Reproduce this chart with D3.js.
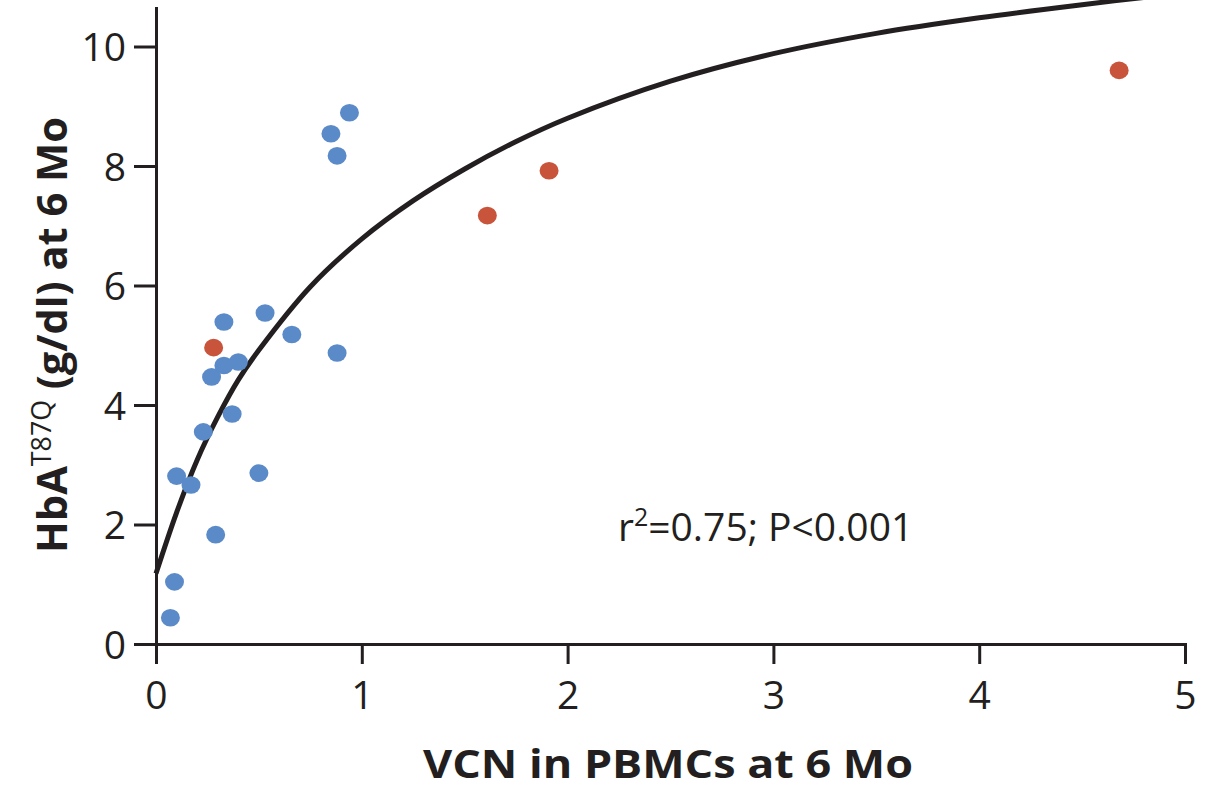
<!DOCTYPE html>
<html>
<head>
<meta charset="utf-8">
<script src="https://cdn.jsdelivr.net/npm/d3@7"></script>
<style>
  body { margin: 0; background: #fff; }
  svg { display: block; font-family: 'Open Sans', 'Noto Sans', sans-serif; }
  .axis path, .axis line { stroke: #231f20; stroke-width: 3; }
  .axis text { fill: #231f20; font-size: 39px; font-family: 'Open Sans', sans-serif; }
</style>
</head>
<body>
<svg width="1214" height="791"></svg>
<script>
// blue patients
const blueVcn = [0.07, 0.09, 0.10, 0.17, 0.29, 0.23, 0.37, 0.50, 0.27, 0.33, 0.40, 0.33, 0.53, 0.66, 0.88, 0.85, 0.88, 0.94];
const blueHb = [0.44, 1.04, 2.81, 2.66, 1.83, 3.55, 3.85, 2.86, 4.47, 4.66, 4.72, 5.39, 5.54, 5.18, 4.87, 8.54, 8.17, 8.89];
// red patients
const redVcn = [0.28, 1.61, 1.91, 4.68];
const redHb = [4.96, 7.17, 7.92, 9.60];
// fitted curve
const fitVcn = [0, 0.1, 0.2, 0.3, 0.4, 0.5, 0.75, 1.0, 1.25, 1.5, 1.75, 2.0, 2.5, 3.0, 3.5, 4.0, 4.5, 4.9];
const fitHb = [1.18, 2.2, 3.08, 3.8, 4.42, 4.92, 5.98, 6.78, 7.42, 7.95, 8.41, 8.8, 9.42, 9.88, 10.22, 10.48, 10.7, 10.86];
const xTicks = [0, 1, 2, 3, 4, 5];
const yTicks = [0, 2, 4, 6, 8, 10];

const svg = d3.select('svg');

const x = d3.scaleLinear().domain([0, 5]).range([156, 1185]);
const y = d3.scaleLinear().domain([0, 10]).range([644, 46.5]);
const yTop = y.invert(8);
const yAxisScale = y.copy().domain([0, yTop]).range([644, 8]);

// curve
const line = d3.line()
  .x(d => x(d[0]))
  .y(d => y(d[1]))
  .curve(d3.curveCatmullRom.alpha(0.5));

svg.append('path')
  .datum(fitVcn.map((v, i) => [v, fitHb[i]]))
  .attr('d', line)
  .attr('fill', 'none')
  .attr('stroke', '#231f20')
  .attr('stroke-width', 5);

// axes
svg.append('g')
  .attr('class', 'axis')
  .attr('transform', `translate(0, ${y(0)})`)
  .call(d3.axisBottom(x).tickValues(xTicks).tickSize(20).tickSizeOuter(0).tickPadding(12).tickFormat(d3.format('d')))
  .call(g => g.selectAll('text').attr('dy', '0.85em'));

svg.append('g')
  .attr('class', 'axis')
  .attr('transform', `translate(${x(0)}, 0)`)
  .call(d3.axisLeft(yAxisScale).tickValues(yTicks).tickSize(22).tickSizeOuter(0).tickPadding(8).tickFormat(d3.format('d')))
  .call(g => g.selectAll('text').attr('dy', '0.36em'));

svg.selectAll('.axis .domain').attr('stroke-linecap', 'square');

// dots
svg.append('g').selectAll('ellipse')
  .data(blueVcn.map((v, i) => [v, blueHb[i]]))
  .enter()
  .append('ellipse')
  .attr('cx', d => x(d[0]))
  .attr('cy', d => y(d[1]))
  .attr('rx', 9.5)
  .attr('ry', 8.8)
  .attr('fill', '#5b8ac8');

svg.append('g').selectAll('ellipse')
  .data(redVcn.map((v, i) => [v, redHb[i]]))
  .enter()
  .append('ellipse')
  .attr('cx', d => x(d[0]))
  .attr('cy', d => y(d[1]))
  .attr('rx', 9.5)
  .attr('ry', 8.8)
  .attr('fill', '#c8543b');

// annotation
const note = svg.append('text')
  .attr('x', 618)
  .attr('y', 541)
  .attr('fill', '#231f20')
  .style('font-size', '39px');
note.append('tspan').text('r');
note.append('tspan').attr('dy', -15).style('font-size', '25px').text('2');
note.append('tspan').attr('dy', 15).text('=0.75; P<0.001');

// x title
svg.append('text')
  .attr('x', 668)
  .attr('y', 778)
  .attr('text-anchor', 'middle')
  .attr('fill', '#231f20')
  .style('font-size', '40px')
  .style('font-weight', 'bold')
  .attr('textLength', 490)
  .attr('lengthAdjust', 'spacingAndGlyphs')
  .text('VCN in PBMCs at 6 Mo');

// y title
const yTitle = svg.append('text')
  .attr('transform', 'translate(67, 335) rotate(-90)')
  .attr('text-anchor', 'middle')
  .attr('fill', '#231f20')
  .style('font-size', '42px')
  .style('font-weight', 'bold')
  .attr('textLength', 436)
  .attr('lengthAdjust', 'spacingAndGlyphs');
yTitle.append('tspan').text('HbA');
yTitle.append('tspan').attr('dy', -16).style('font-size', '27px').style('font-weight', 'normal').text('T87Q');
yTitle.append('tspan').attr('dy', 16).text(' (g/dl) at 6 Mo');
</script>
</body>
</html>
